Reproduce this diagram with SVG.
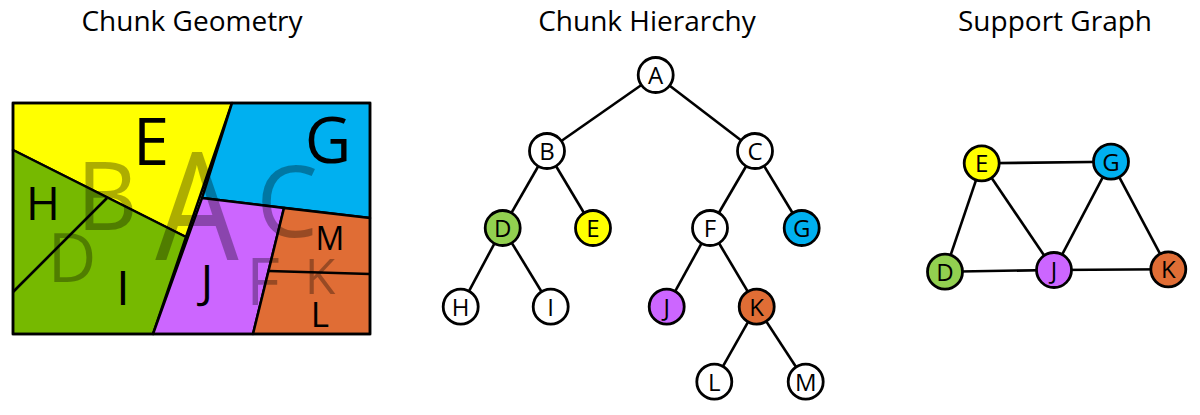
<svg xmlns="http://www.w3.org/2000/svg" width="1200" height="415" viewBox="0 0 1200 415">
<style>
.title{font-family:"Open Sans","Liberation Sans",sans-serif;font-size:28px;fill:#000;text-anchor:middle}
.lbl{font-family:"Open Sans","Liberation Sans",sans-serif;fill:#000;text-anchor:middle}
.ghost{font-family:"Open Sans","Liberation Sans",sans-serif;fill:#000;fill-opacity:0.32;text-anchor:middle}
.reg{stroke:#000;stroke-width:2.5;stroke-linejoin:round}
.edge{stroke:#000;stroke-width:2.6;fill:none}
.node circle{stroke:#000;stroke-width:2.8}
.node text{font-family:"Open Sans","Liberation Sans",sans-serif;font-size:24px;fill:#000;text-anchor:middle}
</style>
<rect width="1200" height="415" fill="#fff"/>
<text class="title" x="192" y="31">Chunk Geometry</text>
<text class="title" x="647" y="31">Chunk Hierarchy</text>
<text class="title" x="1055" y="31">Support Graph</text>

<g id="geometry">
<polygon class="reg" fill="#FFFF00" points="13,103 232,103 186,237 13,150"/>
<polygon class="reg" fill="#00B0F0" points="232,103 370,103 370,218 202,198"/>
<polygon class="reg" fill="#76B900" points="13,150 186,237 153,334 13,334"/>
<polygon class="reg" fill="#CC66FF" points="202,198 284,208 253,334 153,334"/>
<polygon class="reg" fill="#E06D35" points="284,208 370,218 370,334 253,334"/>
<line class="edge" x1="13" y1="292" x2="107" y2="198"/>
<line class="edge" x1="269" y1="271" x2="370" y2="274"/>
<rect x="13" y="103" width="357" height="231" fill="none" stroke="#000" stroke-width="2.5"/>
<text class="ghost" x="197" y="260" font-size="150" transform="translate(197 0) scale(0.88 1) translate(-197 0)">A</text>
<text class="ghost" x="107" y="230" font-size="95">B</text>
<text class="ghost" x="287" y="237" font-size="98">C</text>
<text class="ghost" x="72" y="282" font-size="67">D</text>
<text class="ghost" x="263" y="305" font-size="65">F</text>
<text class="ghost" x="320" y="294" font-size="50">K</text>
<text class="lbl" x="151" y="165" font-size="65">E</text>
<text class="lbl" x="328" y="163" font-size="64">G</text>
<text class="lbl" x="43" y="220" font-size="46">H</text>
<text class="lbl" x="123" y="305" font-size="48">I</text>
<text class="lbl" x="207" y="298" font-size="46">J</text>
<text class="lbl" x="330" y="250" font-size="32">M</text>
<text class="lbl" x="320" y="327" font-size="35">L</text>
</g>

<g id="connectors">
<line class="edge" x1="655.7" y1="75" x2="547" y2="151"/>
<line class="edge" x1="655.7" y1="75" x2="755" y2="151"/>
<line class="edge" x1="547" y1="151" x2="502.7" y2="228"/>
<line class="edge" x1="547" y1="151" x2="593" y2="228"/>
<line class="edge" x1="755" y1="151" x2="710" y2="228"/>
<line class="edge" x1="755" y1="151" x2="801.7" y2="228"/>
<line class="edge" x1="502.7" y1="228" x2="460.7" y2="306.7"/>
<line class="edge" x1="502.7" y1="228" x2="550.7" y2="306.7"/>
<line class="edge" x1="710" y1="228" x2="666.7" y2="306.7"/>
<line class="edge" x1="710" y1="228" x2="756.7" y2="306.7"/>
<line class="edge" x1="756.7" y1="306.7" x2="714.3" y2="381.7"/>
<line class="edge" x1="756.7" y1="306.7" x2="805.7" y2="381.7"/>
<line class="edge" x1="981.7" y1="163.3" x2="1111" y2="161.7"/>
<line class="edge" x1="981.7" y1="163.3" x2="945" y2="271.7"/>
<line class="edge" x1="981.7" y1="163.3" x2="1054" y2="270"/>
<line class="edge" x1="1111" y1="161.7" x2="1054" y2="270"/>
<line class="edge" x1="1111" y1="161.7" x2="1168.3" y2="269.3"/>
<line class="edge" x1="945" y1="271.7" x2="1054" y2="270"/>
<line class="edge" x1="1054" y1="270" x2="1168.3" y2="269.3"/>
</g>

<g id="tA" class="node"><circle cx="655.7" cy="75" r="17.5" fill="#fff"/><text x="655.7" y="84">A</text></g>
<g id="tB" class="node"><circle cx="547" cy="151" r="17.5" fill="#fff"/><text x="547" y="160">B</text></g>
<g id="tC" class="node"><circle cx="755" cy="151" r="17.5" fill="#fff"/><text x="755" y="160">C</text></g>
<g id="tD" class="node"><circle cx="502.7" cy="228" r="17.5" fill="#92D050"/><text x="502.7" y="237">D</text></g>
<g id="tE" class="node"><circle cx="593" cy="228" r="17.5" fill="#FFFF00"/><text x="593" y="237">E</text></g>
<g id="tF" class="node"><circle cx="710" cy="228" r="17.5" fill="#fff"/><text x="710" y="237">F</text></g>
<g id="tG" class="node"><circle cx="801.7" cy="228" r="17.5" fill="#00B0F0"/><text x="801.7" y="237">G</text></g>
<g id="tH" class="node"><circle cx="460.7" cy="306.7" r="17.5" fill="#fff"/><text x="460.7" y="315.7">H</text></g>
<g id="tI" class="node"><circle cx="550.7" cy="306.7" r="17.5" fill="#fff"/><text x="550.7" y="315.7">I</text></g>
<g id="tJ" class="node"><circle cx="666.7" cy="306.7" r="17.5" fill="#CC66FF"/><text x="666.7" y="315.7">J</text></g>
<g id="tK" class="node"><circle cx="756.7" cy="306.7" r="17.5" fill="#E06D35"/><text x="756.7" y="315.7">K</text></g>
<g id="tL" class="node"><circle cx="714.3" cy="381.7" r="17.5" fill="#fff"/><text x="714.3" y="390.7">L</text></g>
<g id="tM" class="node"><circle cx="805.7" cy="381.7" r="17.5" fill="#fff"/><text x="805.7" y="390.7">M</text></g>

<g id="sE" class="node"><circle cx="981.7" cy="163.3" r="17.5" fill="#FFFF00"/><text x="981.7" y="172.3">E</text></g>
<g id="sG" class="node"><circle cx="1111" cy="161.7" r="17.5" fill="#00B0F0"/><text x="1111" y="170.7">G</text></g>
<g id="sD" class="node"><circle cx="945" cy="271.7" r="17.5" fill="#92D050"/><text x="945" y="280.7">D</text></g>
<g id="sJ" class="node"><circle cx="1054" cy="270" r="17.5" fill="#CC66FF"/><text x="1054" y="279">J</text></g>
<g id="sK" class="node"><circle cx="1168.3" cy="269.3" r="17.5" fill="#E06D35"/><text x="1168.3" y="278.3">K</text></g>
</svg>
